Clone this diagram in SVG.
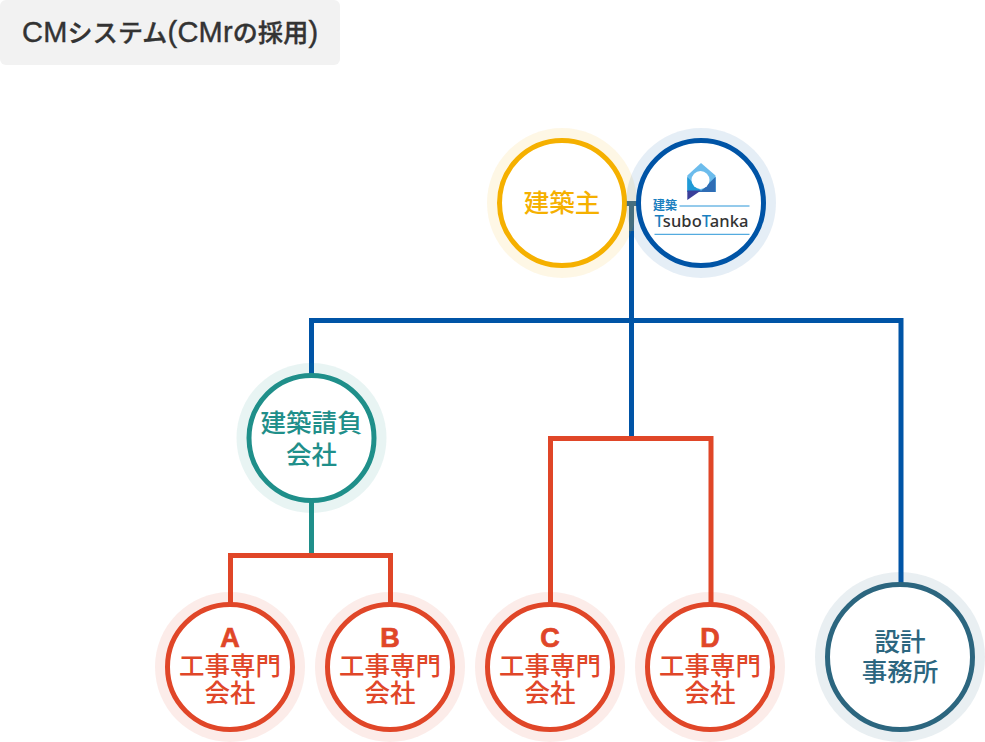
<svg xmlns="http://www.w3.org/2000/svg" width="985" height="742" viewBox="0 0 985 742">
<style>
text{font-family:"Noto Sans CJK JP","Liberation Sans",sans-serif;text-anchor:middle}
.l{font-size:25.500px;font-weight:500}
.ab{font-family:"Liberation Sans",sans-serif;font-weight:700;font-size:27px;stroke:#e04628;stroke-width:.7}
.ring{fill:#fff;stroke-width:5}
.halo{opacity:.1}
.c{fill:none;stroke-width:5}
.blue{stroke:#0054a6}.red{stroke:#e04628}.teal{stroke:#1f8f8a}
.red-t{fill:#e04628}.teal-t{fill:#1f8f8a}.navy-t{fill:#2c667f}.yel-t{fill:#f5b000}
</style>
<g id="title"><rect x="0" y="0" width="340" height="65" rx="6" fill="#f2f2f2"/>
<text x="22" y="42" fill="#333" font-size="25" font-weight="500" letter-spacing=".2" style="text-anchor:start;font-family:'Liberation Sans','Noto Sans CJK JP',sans-serif" stroke="#333" stroke-width=".4"><tspan font-size="29">CM</tspan>システム<tspan font-size="29">(CMr</tspan>の採用<tspan font-size="29">)</tspan></text></g>
<g id="connectors">
<path class="c" stroke="#3d6b8a" d="M625 203.500H638M631.500 203V232"/>
<path class="c blue" d="M631.500 231V437M311.500 376V320.500H901V584"/>
<path class="c teal" d="M311.500 500V555"/>
<path class="c red" d="M230.500 605V555.500H390.500V605"/>
<path class="c red" d="M550.500 605V438.500H711V605"/>
</g>
<g id="owner"><circle class="halo" cx="562" cy="203" r="75" fill="#f5b000"/><circle class="ring" cx="562" cy="203" r="62.500" stroke="#f5b000"/><text class="l yel-t" x="562" y="212">建築主</text></g>
<g id="tsubotanka"><circle class="halo" cx="701" cy="203" r="75" fill="#0054a6"/><circle class="ring" cx="701" cy="203" r="62.500" stroke="#0054a6"/>
<path d="M701 163L715.500 175.500V192H687.300V175.500Z" fill="#6cbcec"/>
<path d="M687.300 177L701 191L715.500 177V192H687.300Z" fill="#1f9ad6"/>
<path d="M701 191L715.500 177V192L697 192Z" fill="#2f6db5"/>
<path d="M687.300 190.500H701L687.300 200Z" fill="#3a3f9a"/>
<circle cx="700.500" cy="180" r="9" fill="#fff"/>
<path d="M679.500 206H749.500M654.500 234.300H749.500" stroke="#2a96d8" stroke-width="1" fill="none"/>
<text x="665" y="210" font-size="12" font-weight="700" fill="#1a7fc0">建築</text>
<text x="701.500" y="226.700" font-size="16.500" font-weight="500" fill="#333" style="font-family:'Noto Sans',sans-serif" textLength="94"><tspan fill="#1a7fc0">T</tspan>subo<tspan fill="#1a7fc0">T</tspan>anka</text></g>
<g id="contractor"><circle class="halo" cx="311.500" cy="438" r="75" fill="#1f8f8a"/><circle class="ring" cx="311.500" cy="438" r="62.500" stroke="#1f8f8a"/><text class="l teal-t" x="311.500" y="432">建築請負</text><text class="l teal-t" x="311.500" y="464">会社</text></g>
<g id="a"><circle class="halo" cx="230" cy="667" r="75" fill="#e04628"/><circle class="ring" cx="230" cy="667" r="62.500" stroke="#e04628"/><text class="ab red-t" x="230" y="647">A</text><text class="l red-t" x="230" y="675">工事専門</text><text class="l red-t" x="230" y="702">会社</text></g>
<g id="b"><circle class="halo" cx="390" cy="667" r="75" fill="#e04628"/><circle class="ring" cx="390" cy="667" r="62.500" stroke="#e04628"/><text class="ab red-t" x="390" y="647">B</text><text class="l red-t" x="390" y="675">工事専門</text><text class="l red-t" x="390" y="702">会社</text></g>
<g id="c"><circle class="halo" cx="550" cy="667" r="75" fill="#e04628"/><circle class="ring" cx="550" cy="667" r="62.500" stroke="#e04628"/><text class="ab red-t" x="550" y="647">C</text><text class="l red-t" x="550" y="675">工事専門</text><text class="l red-t" x="550" y="702">会社</text></g>
<g id="d"><circle class="halo" cx="710" cy="667" r="75" fill="#e04628"/><circle class="ring" cx="710" cy="667" r="62.500" stroke="#e04628"/><text class="ab red-t" x="710" y="647">D</text><text class="l red-t" x="710" y="675">工事専門</text><text class="l red-t" x="710" y="702">会社</text></g>
<g id="design"><circle class="halo" cx="900" cy="657" r="85" fill="#2c667f"/><circle class="ring" cx="900" cy="657" r="72.500" stroke="#2c667f"/><text class="l navy-t" x="900" y="651">設計</text><text class="l navy-t" x="900" y="681">事務所</text></g>
</svg>
